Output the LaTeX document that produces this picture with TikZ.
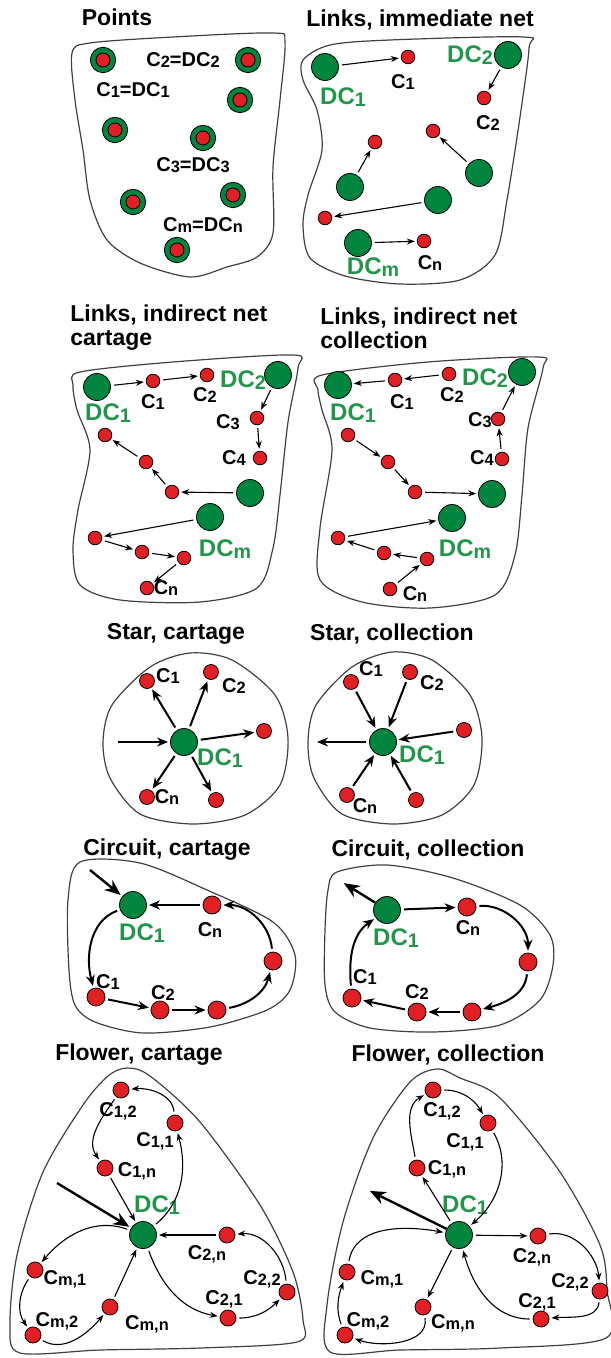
\documentclass[tikz,border=0pt]{standalone}
\usepackage{fontspec}
\setmainfont{Liberation Sans}
\usepackage{graphicx}
\usetikzlibrary{arrows.meta}
\definecolor{dcgreen}{RGB}{0,133,62}
\definecolor{dctext}{RGB}{34,150,72}
\definecolor{cred}{RGB}{226,32,36}
\newcommand\sbs[1]{\raisebox{-0.12ex}{\scalebox{0.82}{#1}}}
\tikzset{
  ttl/.style={font=\fontsize{11.5}{12}\selectfont\bfseries, inner sep=0pt},
  lab/.style={font=\fontsize{10}{12}\selectfont\bfseries, inner sep=0pt},
  dclab/.style={font=\fontsize{12}{14}\selectfont\bfseries, text=dctext, inner sep=0pt},
  dcnode/.style={circle, draw=black, line width=0.4pt, fill=dcgreen, inner sep=0pt, minimum size=13.5pt},
  cnode/.style={circle, draw=black, line width=0.4pt, fill=cred, inner sep=0pt, minimum size=#1},
  cnode/.default=6.8pt,
  ptnode/.style={circle, draw=black, line width=0.4pt, fill=dcgreen, inner sep=0pt, minimum size=12.7pt,
    path picture={\filldraw[fill=cred, draw=black, line width=0.4pt] (path picture bounding box.center) circle (3.5pt);}},
  bag/.style={draw=black!75, line width=0.6pt},
  arr/.style={-{Stealth[length=4pt,width=3pt]}, line width=0.55pt, shorten <=1.5pt, shorten >=1pt},
  thk/.style={-{Stealth[length=5.5pt,width=4.5pt]}, line width=1pt, shorten <=1.5pt, shorten >=1pt},
  bigarr/.style={-{Stealth[length=8pt,width=6.5pt]}, line width=1.2pt, shorten >=1pt},
}
\begin{document}
\begin{tikzpicture}[x=0.5pt,y=0.5pt]
\useasboundingbox (0,0) rectangle (610,-1358);

% titles
\node[ttl] (t-pts) at (117,-17) {Points};
\node[ttl] (t-imm) at (420,-20) {Links, immediate net};
\node[ttl, align=left, anchor=west] (t-icart) at (70,-328) {Links, indirect net\\cartage};
\node[ttl, align=left, anchor=west] (t-icoll) at (320,-328) {Links, indirect net\\collection};
\node[ttl] (t-scart) at (176,-634) {Star, cartage};
\node[ttl] (t-scoll) at (392,-634) {Star, collection};
\node[ttl] (t-ccart) at (167,-850) {Circuit, cartage};
\node[ttl] (t-ccoll) at (428,-850) {Circuit, collection};
\node[ttl] (t-fcart) at (139,-1055) {Flower, cartage};
\node[ttl] (t-fcoll) at (448,-1055) {Flower, collection};

% Points
\draw[bag] plot[smooth cycle] coordinates {(72,-53) (90,-43) (173,-37) (273,-33) (285,-42) (280,-100) (273,-167) (273,-233) (257,-257) (227,-267) (190,-277) (140,-263) (107,-240) (90,-200) (83,-150) (75,-100)};
\node[ptnode] (pts-1) at (103,-60) {};
\node[ptnode] (pts-2) at (248,-60) {};
\node[ptnode] (pts-3) at (240,-100) {};
\node[ptnode] (pts-4) at (115,-130) {};
\node[ptnode] (pts-5) at (203,-138) {};
\node[ptnode] (pts-6) at (133,-202) {};
\node[ptnode] (pts-7) at (233,-195) {};
\node[ptnode] (pts-8) at (177,-250) {};
\node[lab] (pts-l2) at (183,-60) {C\sbs{2}=DC\sbs{2}};
\node[lab] (pts-l1) at (133,-90) {C\sbs{1}=DC\sbs{1}};
\node[lab] (pts-l3) at (193,-165) {C\sbs{3}=DC\sbs{3}};
\node[lab] (pts-lm) at (203,-225) {C\sbs{m}=DC\sbs{n}};

% Links, immediate net
\draw[bag] plot[smooth cycle] coordinates {(303,-60) (330,-45) (390,-40) (523,-37) (529,-48) (520,-117) (507,-200) (495,-255) (460,-280) (400,-284) (345,-276) (310,-258) (303,-225) (308,-195) (322,-150) (317,-110) (303,-80)};
\node[dcnode] (imm-dc1) at (325,-67) {};
\node[cnode] (imm-c1) at (408,-57) {};
\node[dcnode] (imm-dc2) at (508,-55) {};
\node[cnode] (imm-c2) at (484,-98) {};
\node[cnode] (imm-r1) at (375,-142) {};
\node[cnode] (imm-r2) at (433,-131) {};
\node[dcnode] (imm-g1) at (350,-187) {};
\node[dcnode] (imm-g2) at (479,-173) {};
\node[dcnode] (imm-g3) at (438,-200) {};
\node[cnode] (imm-r3) at (325,-218) {};
\node[dcnode] (imm-dcm) at (358,-243) {};
\node[cnode] (imm-cn) at (424,-241) {};
\node[lab] (imm-lc1) at (403,-82) {C\sbs{1}};
\node[dclab] (imm-ldc1) at (343,-97) {DC\sbs{1}};
\node[dclab] (imm-ldc2) at (470,-55) {DC\sbs{2}};
\node[lab] (imm-lc2) at (488,-123) {C\sbs{2}};
\node[dclab] (imm-ldcm) at (373,-267) {DC\sbs{m}};
\node[lab] (imm-lcn) at (430,-263) {C\sbs{n}};
\draw[arr] (imm-dc1) -- (imm-c1);
\draw[arr] (imm-dc2) -- (imm-c2);
\draw[arr] (imm-g1) -- (imm-r1);
\draw[arr] (imm-g2) -- (imm-r2);
\draw[arr] (imm-g3) -- (imm-r3);
\draw[arr] (imm-dcm) -- (imm-cn);

% Links, indirect net, cartage
\draw[bag] plot[smooth cycle] coordinates {(80,-372) (173,-362) (293,-355) (298,-368) (288,-422) (280,-495) (273,-548) (257,-588) (200,-602) (120,-600) (80,-585) (73,-550) (78,-510) (90,-450) (77,-410) (73,-385)};
\node[dcnode] (icart-dc1) at (97,-387) {};
\node[cnode] (icart-c1) at (153,-381) {};
\node[cnode] (icart-c2) at (207,-375) {};
\node[dcnode] (icart-dc2) at (278,-375) {};
\node[cnode] (icart-c3) at (257,-418) {};
\node[cnode] (icart-c4) at (260,-458) {};
\node[cnode] (icart-r1) at (105,-435) {};
\node[cnode] (icart-r2) at (146,-462) {};
\node[cnode] (icart-r3) at (172,-492) {};
\node[dcnode] (icart-g1) at (250,-493) {};
\node[dcnode] (icart-dcm) at (210,-517) {};
\node[cnode] (icart-r4) at (95,-538) {};
\node[cnode] (icart-r5) at (142,-552) {};
\node[cnode] (icart-r6) at (184,-558) {};
\node[cnode] (icart-cn) at (147,-588) {};
\node[lab] (icart-lc1) at (153,-402) {C\sbs{1}};
\node[lab] (icart-lc2) at (205,-395) {C\sbs{2}};
\node[dclab] (icart-ldc1) at (108,-413) {DC\sbs{1}};
\node[dclab] (icart-ldc2) at (243,-380) {DC\sbs{2}};
\node[lab] (icart-lc3) at (228,-422) {C\sbs{3}};
\node[lab] (icart-lc4) at (234,-458) {C\sbs{4}};
\node[dclab] (icart-ldcm) at (225,-549) {DC\sbs{m}};
\node[lab] (icart-lcn) at (166,-588) {C\sbs{n}};
\draw[arr] (icart-dc1) -- (icart-c1);
\draw[arr] (icart-c1) -- (icart-c2);
\draw[arr] (icart-dc2) -- (icart-c3);
\draw[arr] (icart-c3) -- (icart-c4);
\draw[arr] (icart-g1) -- (icart-r3);
\draw[arr] (icart-r3) -- (icart-r2);
\draw[arr] (icart-r2) -- (icart-r1);
\draw[arr] (icart-dcm) -- (icart-r4);
\draw[arr] (icart-r4) -- (icart-r5);
\draw[arr] (icart-r5) -- (icart-r6);
\draw[arr] (icart-r6) -- (icart-cn);

% Links, indirect net, collection
\draw[bag] plot[smooth cycle] coordinates {(322,-375) (428,-362) (538,-357) (543,-368) (528,-428) (522,-495) (515,-555) (495,-595) (430,-608) (362,-602) (320,-580) (320,-528) (332,-450) (322,-410) (318,-390)};
\node[dcnode] (icoll-dc1) at (338,-385) {};
\node[cnode] (icoll-c1) at (395,-380) {};
\node[cnode] (icoll-c2) at (449,-374) {};
\node[dcnode] (icoll-dc2) at (522,-372) {};
\node[cnode] (icoll-c3) at (498,-419) {};
\node[cnode] (icoll-c4) at (502,-459) {};
\node[cnode] (icoll-r1) at (348,-435) {};
\node[cnode] (icoll-r2) at (388,-462) {};
\node[cnode] (icoll-r3) at (415,-492) {};
\node[dcnode] (icoll-g1) at (492,-494) {};
\node[dcnode] (icoll-dcm) at (452,-518) {};
\node[cnode] (icoll-r4) at (338,-538) {};
\node[cnode] (icoll-r5) at (384,-553) {};
\node[cnode] (icoll-r6) at (427,-559) {};
\node[cnode] (icoll-cn) at (390,-589) {};
\node[lab] (icoll-lc1) at (402,-402) {C\sbs{1}};
\node[lab] (icoll-lc2) at (452,-395) {C\sbs{2}};
\node[dclab] (icoll-ldc1) at (353,-413) {DC\sbs{1}};
\node[dclab] (icoll-ldc2) at (485,-378) {DC\sbs{2}};
\node[lab] (icoll-lc3) at (480,-420) {C\sbs{3}};
\node[lab] (icoll-lc4) at (482,-458) {C\sbs{4}};
\node[dclab] (icoll-ldcm) at (465,-549) {DC\sbs{m}};
\node[lab] (icoll-lcn) at (415,-594) {C\sbs{n}};
\draw[arr] (icoll-c1) -- (icoll-dc1);
\draw[arr] (icoll-c2) -- (icoll-c1);
\draw[arr] (icoll-c3) -- (icoll-dc2);
\draw[arr] (icoll-c4) -- (icoll-c3);
\draw[arr] (icoll-r1) -- (icoll-r2);
\draw[arr] (icoll-r2) -- (icoll-r3);
\draw[arr] (icoll-r3) -- (icoll-g1);
\draw[arr] (icoll-r4) -- (icoll-dcm);
\draw[arr] (icoll-r5) -- (icoll-r4);
\draw[arr] (icoll-r6) -- (icoll-r5);
\draw[arr] (icoll-cn) -- (icoll-r6);

% Star, cartage
\draw[bag] plot[smooth cycle] coordinates {(103,-742) (112,-705) (150,-667) (190,-653) (232,-660) (275,-695) (288,-738) (280,-785) (245,-815) (193,-824) (140,-814) (110,-778)};
\node[dcnode] (scart-dc1) at (184,-742) {};
\node[cnode=7.5pt] (scart-c1) at (147,-681) {};
\node[cnode=7.5pt] (scart-c2) at (211,-672) {};
\node[cnode=7.5pt] (scart-r1) at (264,-731) {};
\node[cnode=7.5pt] (scart-r2) at (216,-800) {};
\node[cnode=7.5pt] (scart-cn) at (147,-797) {};
\coordinate (scart-in) at (115,-742);
\node[lab] (scart-lc1) at (168,-676) {C\sbs{1}};
\node[lab] (scart-lc2) at (234,-686) {C\sbs{2}};
\node[dclab] (scart-ldc1) at (220,-758) {DC\sbs{1}};
\node[lab] (scart-lcn) at (167,-797) {C\sbs{n}};
\draw[thk] (scart-in) -- (scart-dc1);
\draw[thk] (scart-dc1) -- (scart-c1);
\draw[thk] (scart-dc1) -- (scart-c2);
\draw[thk] (scart-dc1) -- (scart-r1);
\draw[thk] (scart-dc1) -- (scart-r2);
\draw[thk] (scart-dc1) -- (scart-cn);

% Star, collection
\draw[bag] plot[smooth cycle] coordinates {(308,-742) (316,-705) (352,-667) (392,-652) (432,-660) (470,-695) (482,-738) (474,-785) (442,-815) (393,-824) (342,-814) (314,-778)};
\node[dcnode] (scoll-dc1) at (383,-742) {};
\node[cnode=7.5pt] (scoll-c1) at (351,-682) {};
\node[cnode=7.5pt] (scoll-c2) at (410,-672) {};
\node[cnode=7.5pt] (scoll-r1) at (464,-730) {};
\node[cnode=7.5pt] (scoll-r2) at (416,-800) {};
\node[cnode=7.5pt] (scoll-cn) at (347,-795) {};
\coordinate (scoll-out) at (315,-742);
\node[lab] (scoll-lc1) at (371,-669) {C\sbs{1}};
\node[lab] (scoll-lc2) at (432,-683) {C\sbs{2}};
\node[dclab] (scoll-ldc1) at (422,-755) {DC\sbs{1}};
\node[lab] (scoll-lcn) at (365,-806) {C\sbs{n}};
\draw[thk] (scoll-dc1) -- (scoll-out);
\draw[thk] (scoll-c1) -- (scoll-dc1);
\draw[thk] (scoll-c2) -- (scoll-dc1);
\draw[thk] (scoll-r1) -- (scoll-dc1);
\draw[thk] (scoll-r2) -- (scoll-dc1);
\draw[thk] (scoll-cn) -- (scoll-dc1);

% Circuit, cartage
\draw[bag] plot[smooth cycle] coordinates {(80,-862) (140,-863) (207,-890) (273,-922) (295,-955) (290,-990) (267,-1010) (210,-1027) (143,-1033) (95,-1022) (75,-1005) (69,-970) (68,-900)};
\node[dcnode] (ccart-dc1) at (133,-905) {};
\node[cnode=9pt] (ccart-cn) at (212,-905) {};
\node[cnode=9pt] (ccart-r3) at (273,-961) {};
\node[cnode=9pt] (ccart-c1) at (96,-997) {};
\node[cnode=9pt] (ccart-c2) at (160,-1010) {};
\node[cnode=9pt] (ccart-r2) at (217,-1010) {};
\coordinate (ccart-in) at (90,-870);
\node[dclab] (ccart-ldc1) at (142,-933) {DC\sbs{1}};
\node[lab] (ccart-lcn) at (210,-930) {C\sbs{n}};
\node[lab] (ccart-lc1) at (108,-982) {C\sbs{1}};
\node[lab] (ccart-lc2) at (163,-993) {C\sbs{2}};
\draw[bigarr] (ccart-in) -- (ccart-dc1);
\draw[thk] (ccart-cn) -- (ccart-dc1);
\draw[thk] (ccart-r3) to[out=95,in=0] (ccart-cn);
\draw[thk] (ccart-dc1) to[out=200,in=105] (ccart-c1);
\draw[thk] (ccart-c1) -- (ccart-c2);
\draw[thk] (ccart-c2) -- (ccart-r2);
\draw[thk] (ccart-r2) to[out=10,in=255] (ccart-r3);

% Circuit, collection
\draw[bag] plot[smooth cycle] coordinates {(337,-872) (387,-865) (453,-878) (520,-905) (550,-935) (553,-965) (540,-1000) (500,-1025) (433,-1032) (370,-1028) (335,-1012) (325,-985) (325,-930) (328,-890)};
\node[dcnode] (ccoll-dc1) at (387,-910) {};
\node[cnode=9pt] (ccoll-cn) at (467,-907) {};
\node[cnode=9pt] (ccoll-r3) at (528,-962) {};
\node[cnode=9pt] (ccoll-c1) at (352,-998) {};
\node[cnode=9pt] (ccoll-c2) at (417,-1012) {};
\node[cnode=9pt] (ccoll-r2) at (472,-1012) {};
\coordinate (ccoll-out) at (342,-882);
\node[dclab] (ccoll-ldc1) at (396,-938) {DC\sbs{1}};
\node[lab] (ccoll-lcn) at (468,-928) {C\sbs{n}};
\node[lab] (ccoll-lc1) at (365,-977) {C\sbs{1}};
\node[lab] (ccoll-lc2) at (417,-992) {C\sbs{2}};
\draw[bigarr] (ccoll-dc1) -- (ccoll-out);
\draw[thk] (ccoll-dc1) -- (ccoll-cn);
\draw[thk] (ccoll-cn) to[out=5,in=90] (ccoll-r3);
\draw[thk] (ccoll-r3) to[out=265,in=15] (ccoll-r2);
\draw[thk] (ccoll-r2) -- (ccoll-c2);
\draw[thk] (ccoll-c2) -- (ccoll-c1);
\draw[thk] (ccoll-c1) to[out=95,in=215] (ccoll-dc1);

% Flower, cartage
\draw[bag] plot[smooth cycle] coordinates {(127,-1068) (150,-1076) (200,-1122) (260,-1205) (293,-1272) (303,-1320) (297,-1342) (200,-1348) (100,-1350) (20,-1353) (10,-1325) (17,-1255) (43,-1172) (83,-1105) (108,-1076)};
\node[cnode=8pt] (fcart-c12) at (121,-1090) {};
\node[cnode=8pt] (fcart-c11) at (175,-1123) {};
\node[cnode=8pt] (fcart-c1n) at (105,-1168) {};
\node[dcnode] (fcart-dc1) at (143,-1235) {};
\node[cnode=8pt] (fcart-c2n) at (227,-1235) {};
\node[cnode=8pt] (fcart-c22) at (287,-1292) {};
\node[cnode=8pt] (fcart-c21) at (228,-1318) {};
\node[cnode=8pt] (fcart-cm1) at (35,-1270) {};
\node[cnode=8pt] (fcart-cm2) at (33,-1335) {};
\node[cnode=8pt] (fcart-cmn) at (110,-1307) {};
\coordinate (fcart-in) at (57,-1183);
\node[lab] (fcart-l12) at (118,-1111) {C\sbs{1,2}};
\node[lab] (fcart-l11) at (155,-1141) {C\sbs{1,1}};
\node[lab] (fcart-l1n) at (137,-1171) {C\sbs{1,n}};
\node[dclab] (fcart-ldc1) at (157,-1205) {DC\sbs{1}};
\node[lab] (fcart-l2n) at (207,-1254) {C\sbs{2,n}};
\node[lab] (fcart-l22) at (262,-1279) {C\sbs{2,2}};
\node[lab] (fcart-l21) at (224,-1299) {C\sbs{2,1}};
\node[lab] (fcart-lm1) at (65,-1279) {C\sbs{m,1}};
\node[lab] (fcart-lm2) at (57,-1321) {C\sbs{m,2}};
\node[lab] (fcart-lmn) at (147,-1324) {C\sbs{m,n}};
\draw[bigarr] (fcart-in) -- (fcart-dc1);
\draw[arr] (fcart-c11) to[out=95,in=5] (fcart-c12);
\draw[arr] (fcart-c12) to[out=235,in=125] (fcart-c1n);
\draw[arr] (fcart-c1n) -- (fcart-dc1);
\draw[arr] (fcart-dc1) to[out=40,in=285] (fcart-c11);
\draw[arr] (fcart-c2n) -- (fcart-dc1);
\draw[arr] (fcart-dc1) to[out=290,in=170] (fcart-c21);
\draw[arr] (fcart-c21) to[out=0,in=225] (fcart-c22);
\draw[arr] (fcart-c22) to[out=95,in=5] (fcart-c2n);
\draw[arr] (fcart-dc1) to[out=160,in=50] (fcart-cm1);
\draw[arr] (fcart-cm1) to[out=235,in=125] (fcart-cm2);
\draw[arr] (fcart-cm2) to[out=330,in=230] (fcart-cmn);
\draw[arr] (fcart-cmn) -- (fcart-dc1);

% Flower, collection
\draw[bag] plot[smooth cycle] coordinates {(437,-1069) (460,-1078) (500,-1098) (560,-1172) (600,-1245) (607,-1290) (606,-1338) (500,-1348) (400,-1350) (330,-1352) (327,-1305) (343,-1222) (373,-1138) (410,-1082)};
\node[cnode=8pt] (fcoll-c12) at (433,-1090) {};
\node[cnode=8pt] (fcoll-c11) at (488,-1123) {};
\node[cnode=8pt] (fcoll-c1n) at (417,-1168) {};
\node[dcnode] (fcoll-dc1) at (459,-1235) {};
\node[cnode=8pt] (fcoll-c2n) at (538,-1236) {};
\node[cnode=8pt] (fcoll-c22) at (600,-1291) {};
\node[cnode=8pt] (fcoll-c21) at (541,-1319) {};
\node[cnode=8pt] (fcoll-cm1) at (347,-1272) {};
\node[cnode=8pt] (fcoll-cm2) at (345,-1335) {};
\node[cnode=8pt] (fcoll-cmn) at (423,-1307) {};
\coordinate (fcoll-out) at (368,-1190);
\node[lab] (fcoll-l12) at (442,-1111) {C\sbs{1,2}};
\node[lab] (fcoll-l11) at (465,-1142) {C\sbs{1,1}};
\node[lab] (fcoll-l1n) at (447,-1169) {C\sbs{1,n}};
\node[dclab] (fcoll-ldc1) at (465,-1205) {DC\sbs{1}};
\node[lab] (fcoll-l2n) at (532,-1257) {C\sbs{2,n}};
\node[lab] (fcoll-l22) at (570,-1282) {C\sbs{2,2}};
\node[lab] (fcoll-l21) at (537,-1302) {C\sbs{2,1}};
\node[lab] (fcoll-lm1) at (382,-1279) {C\sbs{m,1}};
\node[lab] (fcoll-lm2) at (368,-1321) {C\sbs{m,2}};
\node[lab] (fcoll-lmn) at (453,-1323) {C\sbs{m,n}};
\draw[bigarr] (fcoll-dc1) -- (fcoll-out);
\draw[arr] (fcoll-c1n) to[out=100,in=210] (fcoll-c12);
\draw[arr] (fcoll-c12) to[out=0,in=120] (fcoll-c11);
\draw[arr] (fcoll-c11) to[out=-60,in=40] (fcoll-dc1);
\draw[arr] (fcoll-dc1) -- (fcoll-c1n);
\draw[arr] (fcoll-dc1) -- (fcoll-c2n);
\draw[arr] (fcoll-c2n) to[out=10,in=95] (fcoll-c22);
\draw[arr] (fcoll-c22) to[out=265,in=5] (fcoll-c21);
\draw[arr] (fcoll-c21) to[out=180,in=285] (fcoll-dc1);
\draw[arr] (fcoll-dc1) -- (fcoll-cmn);
\draw[arr] (fcoll-cmn) to[out=280,in=340] (fcoll-cm2);
\draw[arr] (fcoll-cm2) to[out=110,in=250] (fcoll-cm1);
\draw[arr] (fcoll-cm1) to[out=80,in=170] (fcoll-dc1);
\end{tikzpicture}
\end{document}
